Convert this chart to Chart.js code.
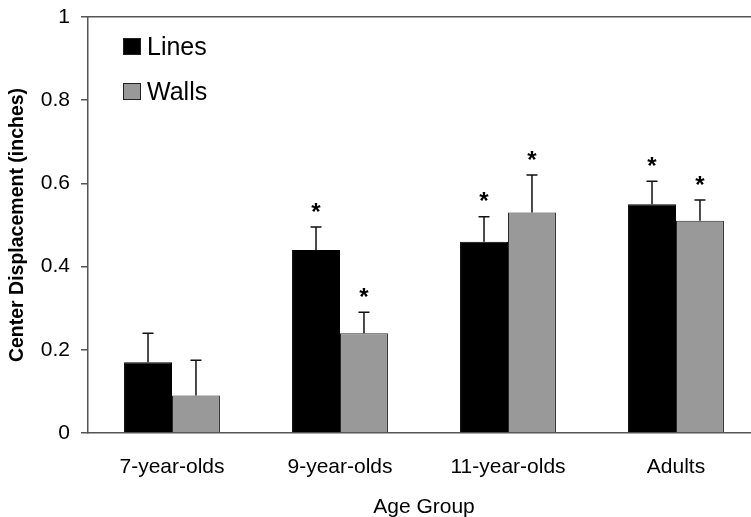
<!DOCTYPE html>
<html>
<head>
<meta charset="utf-8">
<script src="https://cdn.jsdelivr.net/npm/chart.js@4"></script>
<style>
  html, body { margin: 0; padding: 0; background: #fff; overflow: hidden; }
  #wrap { width: 770px; height: 517px; }
</style>
</head>
<body>
<div id="wrap"><canvas id="chart" width="770" height="517"></canvas></div>
<script>
// data
const ageGroups = ["7-year-olds", "9-year-olds", "11-year-olds", "Adults"];
const linesMeans = [0.17, 0.44, 0.46, 0.55];
const wallsMeans = [0.09, 0.24, 0.53, 0.51];
const linesErr = [0.07, 0.055, 0.06, 0.055];
const wallsErr = [0.085, 0.05, 0.09, 0.05];
const linesStar = [false, true, true, true];
const wallsStar = [false, true, true, true];
const yTicks = [0, 0.2, 0.4, 0.6, 0.8, 1];

const FONT = "'Liberation Sans', Arial, Helvetica, sans-serif";

// error bars + asterisks drawn on top of the bars
const errorBars = {
  id: "errorBars",
  afterDatasetsDraw(chart) {
    const ctx = chart.ctx;
    const yScale = chart.scales.y;
    const errs = [linesErr, wallsErr];
    const stars = [linesStar, wallsStar];
    chart.data.datasets.forEach((ds, i) => {
      const meta = chart.getDatasetMeta(i);
      meta.data.forEach((bar, j) => {
        const top = yScale.getPixelForValue(ds.data[j] + errs[i][j]);
        ctx.save();
        ctx.strokeStyle = "#111";
        ctx.lineWidth = 1.5;
        ctx.beginPath();
        ctx.moveTo(bar.x, bar.y);
        ctx.lineTo(bar.x, top);
        ctx.moveTo(bar.x - 5.5, top);
        ctx.lineTo(bar.x + 5.5, top);
        ctx.stroke();
        if (stars[i][j]) {
          ctx.fillStyle = "#000";
          ctx.font = "bold 24px " + FONT;
          ctx.textAlign = "center";
          ctx.textBaseline = "middle";
          ctx.fillText("*", bar.x, top - 14);
        }
        ctx.restore();
      });
    });
  }
};

// legend inside the plot, top left
const innerLegend = {
  id: "innerLegend",
  afterDraw(chart) {
    const ctx = chart.ctx;
    const x0 = chart.chartArea.left + 35;
    let y0 = chart.chartArea.top + 21;
    chart.data.datasets.forEach(ds => {
      ctx.save();
      ctx.fillStyle = ds.backgroundColor;
      ctx.strokeStyle = "#222";
      ctx.lineWidth = 1;
      ctx.fillRect(x0, y0, 18, 17);
      ctx.strokeRect(x0 + 0.5, y0 + 0.5, 17, 16);
      ctx.fillStyle = "#000";
      ctx.font = "25px " + FONT;
      ctx.textAlign = "left";
      ctx.textBaseline = "middle";
      ctx.fillText(ds.label, x0 + 24, y0 + 10);
      ctx.restore();
      y0 += 45;
    });
  }
};

new Chart(document.getElementById("chart"), {
  type: "bar",
  data: {
    labels: ageGroups,
    datasets: [
      { label: "Lines", data: linesMeans, backgroundColor: "#000000", borderColor: "#000000", borderWidth: 1 },
      { label: "Walls", data: wallsMeans, backgroundColor: "#999999", borderColor: "#2a2a2a", borderWidth: 1 }
    ]
  },
  options: {
    responsive: false,
    animation: false,
    layout: { padding: { top: 17, right: 10, left: 0, bottom: 0 } },
    categoryPercentage: 0.571,
    barPercentage: 1.0,
    plugins: {
      legend: { display: false },
      tooltip: { enabled: false }
    },
    scales: {
      x: {
        grid: { display: false, drawTicks: false },
        border: { display: true, color: "#555", width: 1.5 },
        ticks: { color: "#000", font: { family: FONT, size: 21 }, padding: 22 },
        title: { display: true, text: "Age Group", color: "#000", font: { family: FONT, size: 21 }, padding: { top: 0, bottom: -3 } },
        afterFit(s) { s.height = 84; s.paddingLeft = 0; s.paddingRight = 0; }
      },
      x2: {
        position: "top",
        type: "category",
        labels: ageGroups,
        grid: { display: false, drawTicks: false },
        border: { display: true, color: "#555", width: 1.5 },
        ticks: { display: false },
        afterFit(s) { s.height = 0; }
      },
      y: {
        min: 0,
        max: 1,
        afterBuildTicks(s) { s.ticks = yTicks.map(v => ({ value: v })); },
        grid: { drawOnChartArea: false, drawTicks: true, tickLength: 7, color: "#555", lineWidth: 1.5 },
        border: { display: true, color: "#555", width: 1.5 },
        ticks: { color: "#000", font: { family: FONT, size: 21 }, padding: 11, callback: v => String(v) },
        title: { display: true, text: "Center Displacement (inches)", color: "#000", font: { family: FONT, size: 19.5, weight: "bold" }, padding: { top: 6, bottom: 0 } },
        afterFit(s) { s.width = 88; s.paddingTop = 0; s.paddingBottom = 0; }
      }
    }
  },
  plugins: [errorBars, innerLegend]
});
</script>
</body>
</html>
